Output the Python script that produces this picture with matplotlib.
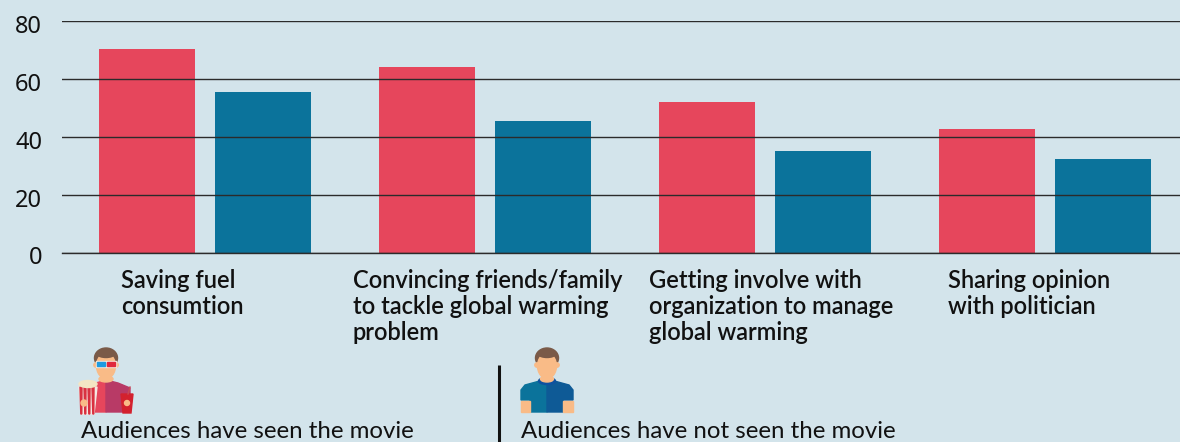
import matplotlib
matplotlib.use("Agg")
import matplotlib.pyplot as plt
from matplotlib.patches import Circle, Ellipse, Polygon, Rectangle
from matplotlib.transforms import ScaledTranslation

categories = [
    "Saving fuel\nconsumtion",
    "Convincing friends/family\nto tackle global warming\nproblem",
    "Getting involve with\norganization to manage\nglobal warming",
    "Sharing opinion\nwith politician",
]
seen = [70.3, 64, 52, 42.7]
not_seen = [55.5, 45.4, 35, 32.3]
yticks = [0, 20, 40, 60, 80]
legend_labels = ["Audiences have seen the movie", "Audiences have not seen the movie"]

BG = "#d3e4eb"
RED = "#e6465c"
BLUE = "#0b739b"
SKIN = "#f9bb87"
HAIR = "#7a5a48"
FONT = "Lato"

plt.rcParams["font.family"] = FONT

W, H = 1180, 442
fig = plt.figure(figsize=(W / 100, H / 100), dpi=100, facecolor=BG)

# chart area, in figure fractions from the pixel positions
ax = fig.add_axes([62 / W, 1 - 252.5 / H, (W - 62) / W, (252.5 - 21) / H], facecolor="none")
x = list(range(len(categories)))
ax.bar([i - 0.207 for i in x], seen, width=0.343, color=RED, zorder=2)
ax.bar([i + 0.207 for i in x], not_seen, width=0.343, color=BLUE, zorder=2)
ax.set_xlim(-0.511, 3.482)
ax.set_ylim(0, 80)
ax.set_yticks(yticks)
ax.set_xticks([])
ax.tick_params(axis="y", length=0, pad=14.4, labelsize=17, labelcolor="#111111",
               labelfontfamily="Noto Sans")
# tick labels sit a little under their lines
shift = ScaledTranslation(0, -3 / 100, fig.dpi_scale_trans)
for lab in ax.get_yticklabels():
    lab.set_transform(lab.get_transform() + shift)
ax.set_axisbelow(False)
ax.grid(axis="y", color="#2b2b2b", linewidth=1)
for s in ["top", "right", "left"]:
    ax.spines[s].set_visible(False)
ax.spines["bottom"].set_color("#2b2b2b")
ax.spines["bottom"].set_linewidth(1)
ax.spines["bottom"].set_zorder(3)

# overlay in pixel coordinates for text and the two figures
ov = fig.add_axes([0, 0, 1, 1], facecolor="none")
ov.set_xlim(0, W)
ov.set_ylim(H, 0)
ov.axis("off")

label_x = [121, 353, 649, 948]
for lx, txt in zip(label_x, categories):
    ov.text(lx, 269, txt, fontsize=17, fontweight="semibold", color="#111111",
            va="top", ha="left", linespacing=1.15)

ov.text(81, 432, legend_labels[0], fontsize=17.3, color="#111111", va="center", ha="left")
ov.text(521, 432, legend_labels[1], fontsize=17.3, color="#111111", va="center", ha="left")
ov.plot([499.2, 499.2], [365, 442], color="#111111", linewidth=2.2, solid_capstyle="butt")


def head(cx):
    ov.add_patch(Ellipse((cx, 358), 23, 20, color=HAIR, zorder=4))
    ov.add_patch(Circle((cx - 10, 365), 2.2, color=SKIN, zorder=4))
    ov.add_patch(Circle((cx + 10, 365), 2.2, color=SKIN, zorder=4))
    ov.add_patch(Ellipse((cx, 366), 19, 25, color=SKIN, zorder=5))
    ov.add_patch(Ellipse((cx, 354.5), 16, 6, color=HAIR, zorder=6))


# first figure: 3D glasses, popcorn and drink
head(106)
ov.add_patch(Polygon([(87, 412), (87, 388), (96, 383), (106, 380), (106, 412)], color=RED, zorder=3))
ov.add_patch(Polygon([(106, 412), (106, 380), (118, 383), (130, 388), (130, 412)], color="#b83a66", zorder=3))
ov.add_patch(Ellipse((106, 379), 14, 6, color=SKIN, zorder=4))
ov.add_patch(Rectangle((96, 361), 20, 6, color="#f3e7dc", zorder=7))
ov.add_patch(Rectangle((97, 362), 8, 4, color="#1e9be0", zorder=8))
ov.add_patch(Rectangle((107, 362), 8, 4, color="#e0283c", zorder=8))
ov.add_patch(Polygon([(79, 387), (97, 387), (94, 414), (82, 414)], color="#f5e9e4", zorder=8))
for sx in (80, 84, 88, 92):
    ov.add_patch(Polygon([(sx, 387), (sx + 2, 387), (sx + 1.8, 414), (sx + 0.8, 414)], color="#d9303f", zorder=9))
ov.add_patch(Ellipse((88, 384), 18, 7, color="#f4e6c4", zorder=9))
ov.add_patch(Polygon([(121, 394), (133, 394), (131, 413), (123, 413)], color="#d3212e", zorder=8))
ov.plot([128, 130], [394, 387], color="#c94a55", linewidth=1, zorder=8)
ov.add_patch(Circle((84, 403), 3, color=SKIN, zorder=10))
ov.add_patch(Circle((127, 403), 2.5, color=SKIN, zorder=10))

# second figure: blue t-shirt
head(547)
ov.add_patch(Polygon([(521, 400), (521, 390), (525, 385), (547, 379), (547, 412), (530, 412), (530, 400)],
                     color="#0b739b", zorder=3))
ov.add_patch(Polygon([(547, 379), (569, 385), (573, 390), (573, 400), (563, 400), (563, 412), (547, 412)],
                     color="#0e5a96", zorder=3))
ov.add_patch(Rectangle((521, 401), 9, 11, color=SKIN, zorder=3))
ov.add_patch(Rectangle((563, 401), 10, 11, color=SKIN, zorder=3))
ov.add_patch(Ellipse((547, 381), 17, 7, color="#0f52a0", zorder=4))
ov.add_patch(Ellipse((547, 379), 13, 6, color=SKIN, zorder=4))

fig.savefig("out.png", dpi=100, facecolor=BG)
